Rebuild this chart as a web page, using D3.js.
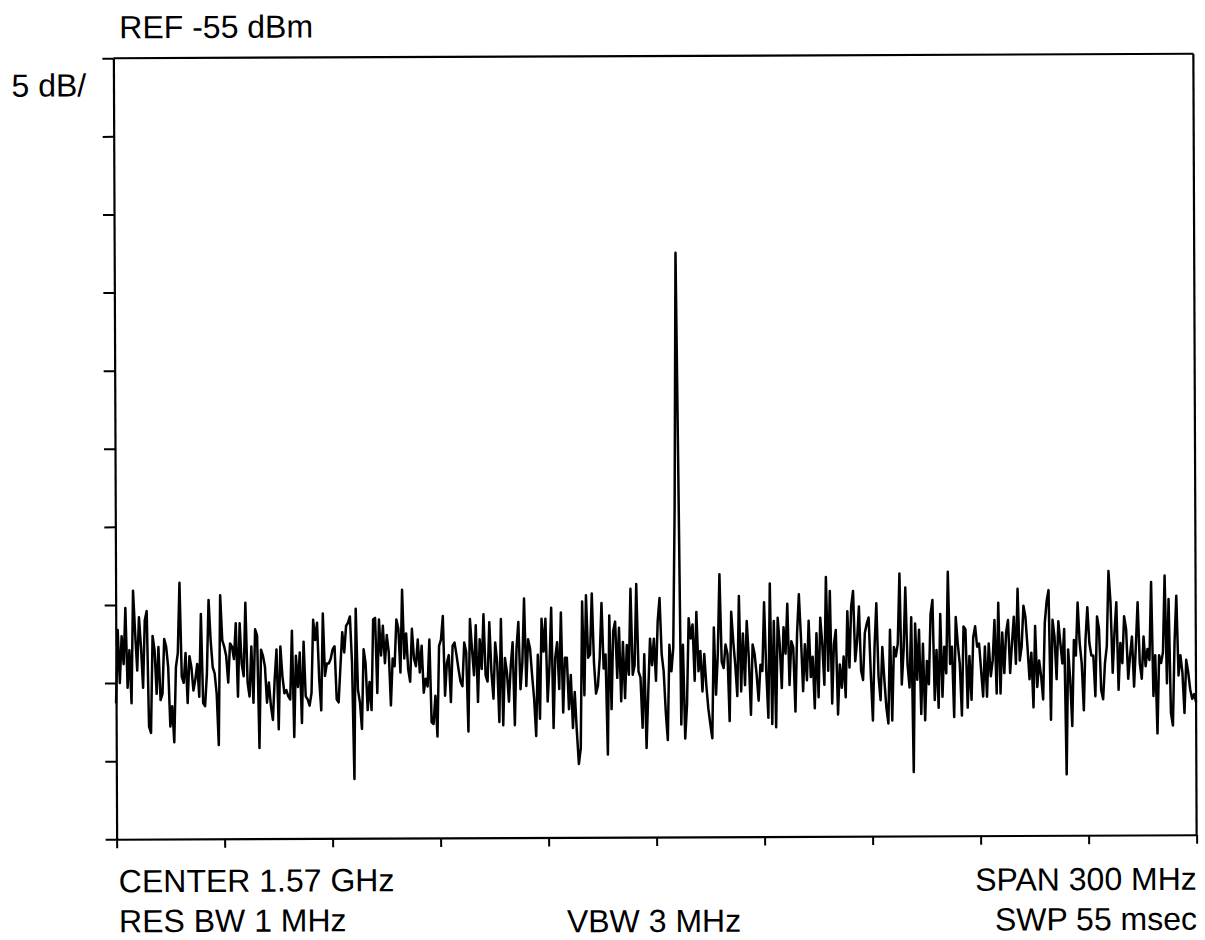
<!DOCTYPE html>
<html><head><meta charset="utf-8">
<script src="https://cdn.jsdelivr.net/npm/d3@7"></script>
<style>
html,body{margin:0;padding:0;background:#fff;}
svg{display:block;}
text{font-family:"Liberation Sans",Arial,Helvetica,sans-serif;fill:#000;font-size:32px;}
</style>
</head><body>
<svg id="chart" width="1205" height="940"></svg>
<script>
// Instrument settings
const refLevelDbm = -55;
const dbPerDiv = 5;
const vDivisions = 10;
const centerMHz = 1570;
const spanMHz = 300;
const hDivisions = 10;

// Annotation texts
const refText = "REF -55 dBm";
const scaleText = "5 dB/";
const bottomLeft = ["CENTER 1.57 GHz", "RES BW 1 MHz"];
const bottomMid = ["VBW 3 MHz"];
const bottomRight = ["SPAN 300 MHz", "SWP 55 msec"];

// Trace levels (dBm), equally spaced sweep points across the span
const traceA = [-96.3,-91.6,-95.0,-92.0,-93.8,-90.2,-95.3,-92.9,-96.3,-89.1,
-91.8,-94.2,-90.8,-92.7,-95.3,-91.0,-90.4,-97.8,-98.2,-92.0,
-92.9,-95.7,-92.7,-96.1,-95.7,-92.2,-92.7,-94.0,-97.8,-96.5,
-98.8,-94.0,-93.1,-88.6,-94.6,-95.0,-93.1,-96.3,-93.3,-94.0,
-95.5,-94.8,-93.8,-95.9,-90.6,-96.3,-96.5,-94.4,-89.7,-92.3,
-94.0,-94.4,-95.7,-99.0,-89.4,-92.3,-92.7,-93.3,-95.0,-92.5,
-92.7,-93.5,-91.2,-95.9,-91.2,-93.8,-94.6,-89.9,-95.0,-95.9,
-92.7,-96.3,-91.6,-92.0,-99.2,-92.9,-93.3,-94.0,-96.3,-95.0,
-96.5,-97.4,-94.8,-92.9,-98.0,-92.7,-94.6,-95.7,-95.5,-95.9,
-96.1,-91.7,-98.5,-93.3,-95.3,-93.1,-97.6,-92.4,-95.9,-96.1,
-96.5,-95.7,-91.0,-92.3,-91.2,-94.8,-96.8,-90.6,-94.6,-93.8];
const traceB = [-93.8,-93.5,-92.9,-92.7,-96.1,-96.3,-94.0,-91.8,-93.1,-91.4,
-91.2,-90.8,-93.8,-101.2,-90.3,-95.5,-96.3,-98.0,-92.9,-93.8,
-96.8,-95.0,-96.8,-91.0,-90.9,-95.7,-91.0,-93.3,-91.4,-93.8,
-92.0,-93.1,-96.5,-93.5,-94.0,-91.0,-91.6,-94.4,-89.1,-93.5,
-91.9,-94.2,-95.0,-91.6,-93.5,-94.0,-92.3,-94.4,-92.7,-95.7,
-94.8,-95.3,-92.3,-97.6,-97.7,-95.9,-98.5,-92.7,-92.3,-90.8,
-95.9,-93.8,-93.3,-96.3,-92.7,-92.5,-93.3,-94.2,-95.0,-95.3,
-92.5,-93.1,-98.2,-91.0,-92.9,-94.6,-91.4,-96.3,-92.3,-94.2,
-90.7,-94.6,-95.0,-91.2,-94.4,-96.1,-92.5,-93.8,-97.6,-91.0,
-97.8,-93.5,-94.4,-96.3,-94.0,-92.5,-97.8,-92.9,-91.2,-95.5,
-93.8,-89.7,-95.3,-92.3,-92.9,-94.6,-96.1,-98.5,-93.3,-97.4,
-91.0,-93.1];
const traceC = [-91.0,-96.3,-94.0,-90.3,-98.0,-93.5,-92.5,-95.5,-90.6,-97.0,
-93.5,-93.5,-96.8,-94.6,-98.0,-95.7,-98.2,-100.3,-99.3,-89.9,
-95.9,-89.5,-93.5,-93.3,-89.4,-93.8,-95.8,-95.3,-93.5,
-90.0,-94.2,-93.3,-99.7,-90.8,-96.8,-91.8,-91.2,-94.8,-91.6,
-96.3,-92.5,-96.1,-92.7,-94.6,-89.1,-94.6,-94.0,-88.8,-94.4,
-94.8,-98.0,-93.3,-99.3,-95.7,-92.3,-94.0,-92.3,-95.0,-91.2,
-89.7,-93.3,-94.4,-97.0,-98.8,-92.7,-94.4,-92.9,
-84.0,-67.6,-82.0,
-97.8,-92.7,-98.7,-96.5,-91.0,-92.3,-91.4,-95.0,-90.6,-94.4,
-93.1,-95.7,-93.3,-95.3,-96.8,-97.8,-98.7,-91.6,-95.9,-93.3,
-88.2,-93.8,-94.2,-92.7,-93.3,-97.6,-90.6,-92.5,-94.0,-96.0,
-89.6,-95.7,-92.0,-95.3,-91.2,-93.5,-97.2,-92.7,-93.3,-94.6,
-96.3,-94.0,-94.4,-90.0,-94.4];
const traceD = [-97.4,-88.8,-97.8,-91.2,-98.0,-91.0,-92.7,-95.5,-91.6,-93.3,
-90.1,-95.3,-92.5,-92.9,-97.0,-92.0,-89.5,-92.3,-95.7,-92.7,
-95.0,-91.2,-94.8,-93.5,-96.8,-92.0,-96.1,-91.0,-92.7,-95.3,
-88.4,-94.4,-89.3,-96.5,-92.7,-91.8,-97.2,-94.0,-95.5,-93.5,
-96.1,-90.6,-94.2,-90.3,-89.3,-93.8,-92.5,-90.3,-94.4,-95.0,
-92.0,-91.4,-91.0,-94.6,-97.6,-92.9,-90.1,-94.8,-96.3,-92.9,
-95.0,-96.8,-97.8,-91.8,-97.6,-92.9,-93.5,-92.7,-88.2,-95.3,
-93.1,-89.1,-94.0,-95.5,-91.0,-100.9,-91.4,-95.0,-91.8,-97.2,
-92.7,-97.6,-93.8,-95.3,-90.8,-89.9,-96.3,-93.1,-96.8,-90.8,
-96.1,-92.9,-94.6,-88.1,-94.0,-92.9,-97.4,-91.0,-92.7,-94.0,
-97.3,-91.6,-91.8,-96.8,-93.5,-96.3,-92.3,-91.6,-92.9,-92.7,
-94.4,-96.1];
const traceE = [-92.9,-96.1,-92.7,-94.8,-93.8,-91.2,-95.9,-90.1,-95.9,-92.0,
-94.6,-92.0,-91.2,-94.6,-92.7,-91.0,-94.0,-89.2,-93.8,-92.9,
-90.3,-91.0,-92.9,-95.0,-93.3,-96.8,-91.6,-95.5,-93.8,-94.8,
-96.3,-91.4,-90.0,-89.3,-97.6,-91.2,-92.3,-95.0,-91.3,-92.7,
-94.0,-91.8,-101.1,-93.1,-95.0,-98.0,-92.5,-93.5,-90.1,-92.7,
-94.0,-97.0,-92.5,-90.4,-92.7,-93.5,-93.5,-96.1,-91.0,-91.8,
-95.7,-96.3,-94.0,-92.9,-88.1,-90.1,-94.6,-92.0,-90.1,-95.7,
-92.7,-94.0,-91.0,-91.8,-95.0,-93.5,-92.3,-95.5,-92.9,-90.1,
-94.0,-95.0,-92.3,-94.2,-93.1,-93.8,-88.8,-96.1,-93.5,-98.5,
-93.5,-94.0,-93.3,-88.4,-95.3,-89.9,-97.2,-98.0,-92.7,-89.7,
-94.8,-93.5,-94.6,-97.2,-93.8,-94.6,-95.7,-96.3,-96.0,-96.5];

const levels = [].concat(traceA, traceB, traceC, traceD, traceE);
const startMHz = centerMHz - spanMHz / 2, stopMHz = centerMHz + spanMHz / 2;
const bottomDbm = refLevelDbm - dbPerDiv * vDivisions;
const points = levels.map((v, i) => ({f: startMHz + i * spanMHz / (levels.length - 1), v}));
const yTicks = d3.range(0, vDivisions + 1).map(i => refLevelDbm - i * dbPerDiv);
const xTicks = d3.range(0, hDivisions + 1).map(i => startMHz + i * spanMHz / hDivisions);

const L = 115, R = 1195, T = 56, B = 837;
const x = d3.scaleLinear().domain([startMHz, stopMHz]).range([L, R]);
const y = d3.scaleLinear().domain([bottomDbm, refLevelDbm]).range([B, T]);

const svg = d3.select("#chart");
const g = svg.append("g").attr("transform", "rotate(-0.24, 655, 447)");

// Axes
const ax = g.append("g").attr("transform", `translate(${L},0)`)
  .call(d3.axisLeft(y).tickValues(yTicks).tickSize(11).tickSizeOuter(0).tickFormat(""));
const bx = g.append("g").attr("transform", `translate(0,${B})`)
  .call(d3.axisBottom(x).tickValues(xTicks).tickSize(9).tickSizeOuter(0).tickFormat(""));
[ax, bx].forEach(a => {
  a.selectAll("path.domain").attr("stroke", "#000").attr("stroke-width", 2.2);
  a.selectAll(".tick line").attr("stroke", "#000").attr("stroke-width", 2);
});
// Top and right frame
g.append("line").attr("x1", x(startMHz)).attr("x2", x(stopMHz)).attr("y1", y(refLevelDbm)).attr("y2", y(refLevelDbm))
  .attr("stroke", "#000").attr("stroke-width", 2.2);
g.append("line").attr("x1", x(stopMHz)).attr("x2", x(stopMHz)).attr("y1", y(refLevelDbm)).attr("y2", y(bottomDbm))
  .attr("stroke", "#000").attr("stroke-width", 2.2);

// Trace
g.append("path").datum(points)
  .attr("fill", "none").attr("stroke", "#000").attr("stroke-width", 2.5).attr("stroke-linejoin", "round")
  .attr("d", d3.line().x(d => x(d.f)).y(d => y(d.v)));

// Texts
g.append("text").attr("x", 121).attr("y", 36).text(refText);
g.append("text").attr("x", 13).attr("y", 94).text(scaleText);
bottomLeft.forEach((t, i) => g.append("text").attr("x", 117).attr("y", 890 + i * 40).text(t));
bottomMid.forEach((t, i) => g.append("text").attr("x", 652).attr("y", 932 + i * 40).attr("text-anchor", "middle").text(t));
bottomRight.forEach((t, i) => g.append("text").attr("x", 1195).attr("y", 892 + i * 40).attr("text-anchor", "end").text(t));
</script>
</body></html>
